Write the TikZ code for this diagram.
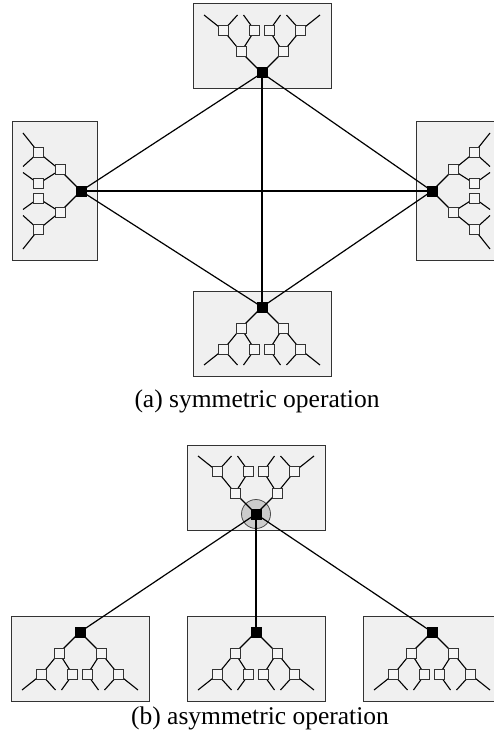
\documentclass[tikz,border=0pt]{standalone}
\usepackage{fontspec}
\setmainfont{Liberation Serif}
\pgfdeclarelayer{bg}
\pgfdeclarelayer{edges}
\pgfsetlayers{bg,edges,main}
\tikzset{
  panel/.style={fill=gray!12, draw=black!80, line width=1pt},
  hub/.style={fill=black, minimum size=11pt, inner sep=0pt, shape=rectangle},
  leafbox/.style={draw=black!80, fill=gray!8, minimum size=10pt, inner sep=0pt, shape=rectangle, line width=1pt},
  branch/.style={line width=1.1pt},
  link/.style={line width=1.2pt},
  halo/.style={circle, fill=gray!40, draw=black!70, line width=0.8pt, minimum size=29pt, inner sep=0pt},
  caption/.style={anchor=base, font=\fontsize{25.5}{30}\selectfont}
}
% One processor panel: a binary tree hanging from its root (#1),
% placed at (#2,#3) and turned by #4 degrees.
\newcommand\proctree[4]{%
  \begin{scope}[shift={(#2,#3)}, rotate=#4]
    \begin{pgfonlayer}{bg}
      \draw[panel] (-69,16) rectangle (69,-69);
    \end{pgfonlayer}
    \node[hub] (#1) at (0,0) {};
    \node[leafbox] (#1-a) at (-21,-21) {};
    \node[leafbox] (#1-b) at (21,-21) {};
    \node[leafbox] (#1-aa) at (-38.5,-42.5) {};
    \node[leafbox] (#1-ab) at (-7.3,-42.5) {};
    \node[leafbox] (#1-ba) at (7.3,-42.5) {};
    \node[leafbox] (#1-bb) at (38.5,-42.5) {};
    \coordinate (#1-aa1) at (-58,-58);
    \coordinate (#1-aa2) at (-24.5,-58);
    \coordinate (#1-ab1) at (-18.5,-58);
    \coordinate (#1-ba1) at (18.5,-58);
    \coordinate (#1-bb1) at (24.5,-58);
    \coordinate (#1-bb2) at (58,-58);
    \begin{pgfonlayer}{edges}
      \draw[branch] (#1.center) -- (#1-a.center) -- (#1-aa.center) -- (#1-aa1);
      \draw[branch] (#1-aa.center) -- (#1-aa2);
      \draw[branch] (#1-a.center) -- (#1-ab.center) -- (#1-ab1);
      \draw[branch] (#1.center) -- (#1-b.center) -- (#1-bb.center) -- (#1-bb2);
      \draw[branch] (#1-bb.center) -- (#1-bb1);
      \draw[branch] (#1-b.center) -- (#1-ba.center) -- (#1-ba1);
    \end{pgfonlayer}
  \end{scope}}
\begin{document}
\begin{tikzpicture}[x=1pt, y=-1pt]
  \useasboundingbox (0,0) rectangle (494,738);
  \clip (0,0) rectangle (494,738);

  % (a) four panels, every pair of roots joined
  \proctree{nt}{262}{73}{0}
  \proctree{nl}{81}{191}{90}
  \proctree{nr}{432}{191}{-90}
  \proctree{nb}{262}{307}{180}
  \begin{pgfonlayer}{edges}
    \draw[link] (nt.center) -- (nl.center);
    \draw[link] (nt.center) -- (nr.center);
    \draw[link] (nt.center) -- (nb.center);
    \draw[link] (nl.center) -- (nr.center);
    \draw[link] (nl.center) -- (nb.center);
    \draw[link] (nr.center) -- (nb.center);
  \end{pgfonlayer}
  \node[caption] (capa) at (257,407) {(a) symmetric operation};

  % (b) one master panel feeding three panels
  \proctree{mt}{256}{514}{0}
  \begin{pgfonlayer}{bg}
    \node[halo] (mh) at (mt) {};
  \end{pgfonlayer}
  \proctree{ml}{80}{632}{180}
  \proctree{mc}{256}{632}{180}
  \proctree{mr}{432}{632}{180}
  \begin{pgfonlayer}{edges}
    \draw[link] (mt.center) -- (ml.center);
    \draw[link] (mt.center) -- (mc.center);
    \draw[link] (mt.center) -- (mr.center);
  \end{pgfonlayer}
  \node[caption] (capb) at (260,724) {(b) asymmetric operation};
\end{tikzpicture}
\end{document}
